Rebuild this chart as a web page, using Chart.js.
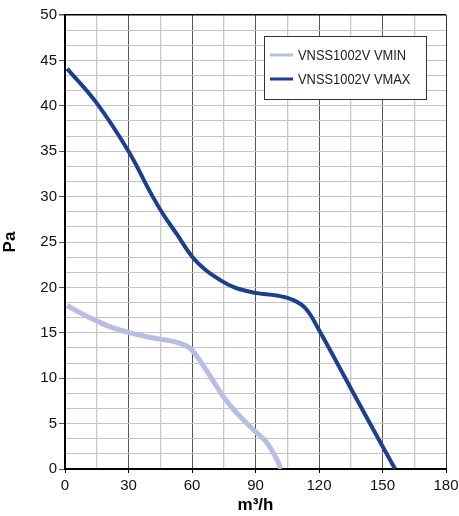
<!DOCTYPE html>
<html>
<head>
<meta charset="utf-8">
<script src="https://cdn.jsdelivr.net/npm/chart.js@4"></script>
<style>
  html, body { margin: 0; padding: 0; background: #fff; }
  #wrap { width: 459px; height: 516px; position: relative; }
</style>
</head>
<body>
<div id="wrap"><canvas id="fanChart"></canvas></div>
<script>
// airflow (m3/h) and static pressure (Pa)
const flowMin = [1, 8, 15, 22, 30, 38, 45, 52, 57, 60, 65, 70, 75, 81, 86, 90, 95, 100, 102];
const pressMin = [18.0, 17.1, 16.3, 15.6, 15.05, 14.6, 14.3, 14.0, 13.6, 13.1, 11.5, 9.7, 7.9, 6.2, 5.0, 4.1, 3.0, 1.1, 0];

const flowMax = [1, 15, 30, 40, 46, 53, 60, 66, 72, 80, 90, 100, 108, 114, 120, 135, 150, 156];
const pressMax = [44.1, 40.3, 35.0, 30.6, 28.2, 25.8, 23.4, 22.0, 21.0, 20.0, 19.4, 19.1, 18.6, 17.6, 15.3, 8.9, 2.5, 0];

const seriesNames = ['VNSS1002V VMIN', 'VNSS1002V VMAX'];
const seriesColors = ['#b9bce3', '#1c408f'];

const xTicks = [0, 30, 60, 90, 120, 150, 180];
const yTicks = [0, 5, 10, 15, 20, 25, 30, 35, 40, 45, 50];

function toPoints(xs, ys) {
    return xs.map((x, i) => ({ x: x, y: ys[i] }));
}

function isMajor(v, step) {
    return Math.abs(v / step - Math.round(v / step)) < 1e-6;
}

// legend box drawn inside the plot, top right
const boxLegend = {
    id: 'boxLegend',
    afterDatasetsDraw(chart) {
        const ctx = chart.ctx;
        const left = 264, top = 36, w = 162, h = 63;
        ctx.save();
        ctx.fillStyle = '#fff';
        ctx.fillRect(left, top, w, h);
        ctx.strokeStyle = '#333';
        ctx.lineWidth = 1;
        ctx.strokeRect(left + 0.5, top + 0.5, w, h);
        chart.data.datasets.forEach((ds, i) => {
            const y = top + 19 + i * 24;
            ctx.strokeStyle = ds.borderColor;
            ctx.lineWidth = 3;
            ctx.beginPath();
            ctx.moveTo(left + 6, y);
            ctx.lineTo(left + 29, y);
            ctx.stroke();
            ctx.save();
            ctx.translate(left + 34, y);
            ctx.scale(0.92, 1);
            ctx.fillStyle = '#222';
            ctx.font = '14px "Liberation Sans", Arial, sans-serif';
            ctx.textBaseline = 'middle';
            ctx.fillText(ds.label, 0, 1);
            ctx.restore();
        });
        ctx.restore();
    }
};

Chart.defaults.font.family = '"Liberation Sans", Arial, sans-serif';

const ctx = document.getElementById('fanChart').getContext('2d');
new Chart(ctx, {
    type: 'scatter',
    data: {
        datasets: [
            {
                label: seriesNames[0],
                data: toPoints(flowMin, pressMin),
                showLine: true,
                borderColor: seriesColors[0],
                borderWidth: 5,
                pointRadius: 0,
                tension: 0.4
            },
            {
                label: seriesNames[1],
                data: toPoints(flowMax, pressMax),
                showLine: true,
                borderColor: seriesColors[1],
                borderWidth: 4,
                pointRadius: 0,
                tension: 0.4
            }
        ]
    },
    options: {
        responsive: true,
        maintainAspectRatio: false,
        animation: false,
        layout: { padding: { top: 15, right: 13, left: 0, bottom: 0 } },
        plugins: {
            legend: { display: false },
            tooltip: { enabled: false }
        },
        scales: {
            x: {
                type: 'linear',
                min: 0,
                max: 180,
                afterFit: (scale) => {
                    scale.height = 47;
                    scale.paddingLeft = 0;
                    scale.paddingRight = 0;
                },
                ticks: {
                    stepSize: 15,
                    color: '#111',
                    font: { size: 15 },
                    padding: 4,
                    maxRotation: 0,
                    autoSkip: false,
                    callback: (v) => xTicks.includes(v) ? String(v) : ''
                },
                grid: {
                    tickLength: 4,
                    color: (c) => {
                        const v = c.tick.value;
                        if (v === 180) return '#333';
                        return isMajor(v, 30) ? '#555' : '#c8c8c8';
                    },
                    lineWidth: (c) => isMajor(c.tick.value, 30) ? 1 : 1.3,
                    tickColor: (c) => isMajor(c.tick.value, 30) ? '#000' : 'rgba(0,0,0,0)'
                },
                border: { color: '#000', width: 2 },
                title: {
                    display: true,
                    text: 'm³/h',
                    color: '#000',
                    font: { size: 17, weight: 'bold' },
                    padding: 0
                }
            },
            y: {
                min: 0,
                max: 50,
                afterFit: (scale) => {
                    scale.width = 65;
                    scale.paddingTop = 0;
                    scale.paddingBottom = 0;
                },
                afterBuildTicks: (scale) => {
                    const t = [];
                    for (let i = 0; i <= 30; i++) t.push({ value: i * 5 / 3 });
                    scale.ticks = t;
                },
                ticks: {
                    color: '#111',
                    font: { size: 15 },
                    padding: 2,
                    autoSkip: false,
                    callback: (v) => {
                        const r = Math.round(v);
                        return isMajor(v, 5) && yTicks.includes(r) ? String(r) : '';
                    }
                },
                grid: {
                    tickLength: 6,
                    color: (c) => c.tick.value >= 49.9 ? '#000' : '#c4c4c4',
                    lineWidth: (c) => c.tick.value >= 49.9 ? 1.5 : 1,
                    tickColor: (c) => isMajor(c.tick.value, 5) ? '#555' : 'rgba(0,0,0,0)'
                },
                border: { color: '#000', width: 2 },
                title: {
                    display: true,
                    text: 'Pa',
                    color: '#000',
                    font: { size: 17, weight: 'bold' },
                    padding: 0
                }
            }
        }
    },
    plugins: [boxLegend]
});
</script>
</body>
</html>
